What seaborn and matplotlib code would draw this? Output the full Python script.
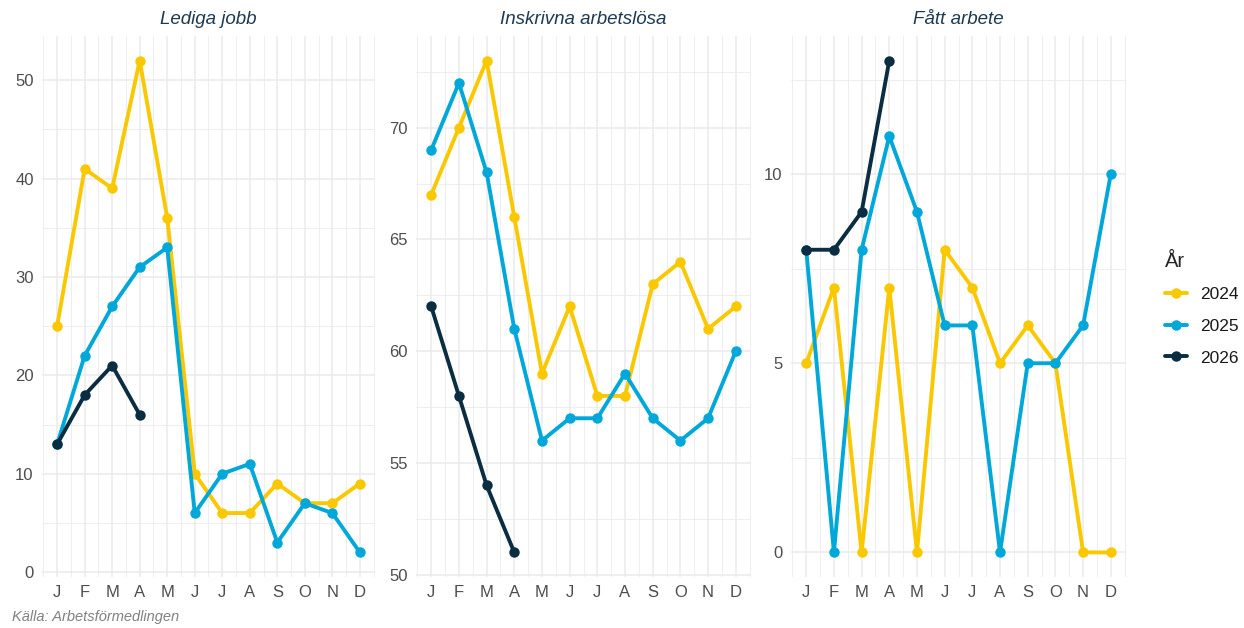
import numpy as np
import pandas as pd
import matplotlib
matplotlib.use("Agg")
import matplotlib.pyplot as plt
from matplotlib.lines import Line2D
import seaborn as sns

# Data
months = list(range(1, 13))
month_labels = ["J", "F", "M", "A", "M", "J", "J", "A", "S", "O", "N", "D"]
years = ["2024", "2025", "2026"]
panels = ["Lediga jobb", "Inskrivna arbetslösa", "Fått arbete"]

lediga_2024 = [25, 41, 39, 52, 36, 10, 6, 6, 9, 7, 7, 9]
lediga_2025 = [13, 22, 27, 31, 33, 6, 10, 11, 3, 7, 6, 2]
lediga_2026 = [13, 18, 21, 16]

inskrivna_2024 = [67, 70, 73, 66, 59, 62, 58, 58, 63, 64, 61, 62]
inskrivna_2025 = [69, 72, 68, 61, 56, 57, 57, 59, 57, 56, 57, 60]
inskrivna_2026 = [62, 58, 54, 51]

fatt_2024 = [5, 7, 0, 7, 0, 8, 7, 5, 6, 5, 0, 0]
fatt_2025 = [8, 0, 8, 11, 9, 6, 6, 0, 5, 5, 6, 10]
fatt_2026 = [8, 8, 9, 13]

colors = {"2024": "#F9C800", "2025": "#00A8DA", "2026": "#0B2D42"}

series = {
    "Lediga jobb": [lediga_2024, lediga_2025, lediga_2026],
    "Inskrivna arbetslösa": [inskrivna_2024, inskrivna_2025, inskrivna_2026],
    "Fått arbete": [fatt_2024, fatt_2025, fatt_2026],
}

rows = []
for panel, vals in series.items():
    for year, v in zip(years, vals):
        for m, val in zip(months, v):
            rows.append({"panel": panel, "year": year, "month": m, "value": val})
df = pd.DataFrame(rows)

# grid settings (ggplot theme_minimal look)
y_major = {
    "Lediga jobb": [0, 10, 20, 30, 40, 50],
    "Inskrivna arbetslösa": [50, 55, 60, 65, 70],
    "Fått arbete": [0, 5, 10],
}
y_minor = {
    "Lediga jobb": [5, 15, 25, 35, 45],
    "Inskrivna arbetslösa": [52.5, 57.5, 62.5, 67.5, 72.5],
    "Fått arbete": [2.5, 7.5, 12.5],
}

sns.set_theme(style="white")
plt.rcParams["font.family"] = ["Liberation Sans", "DejaVu Sans"]

W, H = 1244, 628
fig = plt.figure(figsize=(W / 100, H / 100), dpi=100)

# panel boxes in pixels: left, right
boxes = [(42, 375), (416, 751), (791, 1126)]
top_px, bot_px = 36, 577

grid_col = "#EBEBEB"
for (l, r), panel in zip(boxes, panels):
    ax = fig.add_axes([l / W, 1 - bot_px / H, (r - l) / W, (bot_px - top_px) / H])
    sub = df[df["panel"] == panel]
    sns.lineplot(data=sub, x="month", y="value", hue="year", palette=colors,
                 marker="o", markersize=7.5, markeredgewidth=0, linewidth=2.8,
                 legend=False, ax=ax)
    vmin, vmax = sub["value"].min(), sub["value"].max()
    pad = (vmax - vmin) * 0.05
    ax.set_ylim(vmin - pad, vmax + pad)
    ax.set_xlim(1 - 0.55, 12 + 0.55)
    ax.set_xticks(months)
    ax.set_xticklabels(month_labels)
    ax.set_xticks([m + 0.5 for m in range(0, 13)], minor=True)
    ax.set_yticks(y_major[panel])
    ax.set_yticklabels([f"{v:g}" for v in y_major[panel]])
    ax.set_yticks(y_minor[panel], minor=True)
    ax.grid(True, which="major", color=grid_col, linewidth=1.1)
    ax.grid(True, which="minor", color=grid_col, linewidth=0.6)
    ax.set_axisbelow(True)
    for s in ax.spines.values():
        s.set_visible(False)
    ax.tick_params(axis="both", which="both", length=0, labelsize=12,
                   labelcolor="#4D4D4D", pad=6)
    ax.set_xlabel("")
    ax.set_ylabel("")
    ax.set_title(panel, fontsize=13.5, style="italic", color="#1D3A52", pad=9)

# legend
handles = [Line2D([0], [0], color=colors[y], linewidth=2.8, marker="o",
                  markersize=7.5, markeredgewidth=0) for y in years]
leg = fig.legend(handles, years, title="År", loc="upper left",
                 bbox_to_anchor=(1149 / W, 1 - 236 / H), frameon=False,
                 fontsize=12.5, title_fontsize=14.5, handlelength=1.3,
                 handletextpad=0.75, labelspacing=0.95, alignment="left")
for t in leg.get_texts():
    t.set_color("#1A1A1A")

fig.text(12 / W, 1 - 621 / H, "Källa: Arbetsförmedlingen", fontsize=10.5,
         style="italic", color="#808080", va="baseline")

fig.savefig("out.png", dpi=100)
